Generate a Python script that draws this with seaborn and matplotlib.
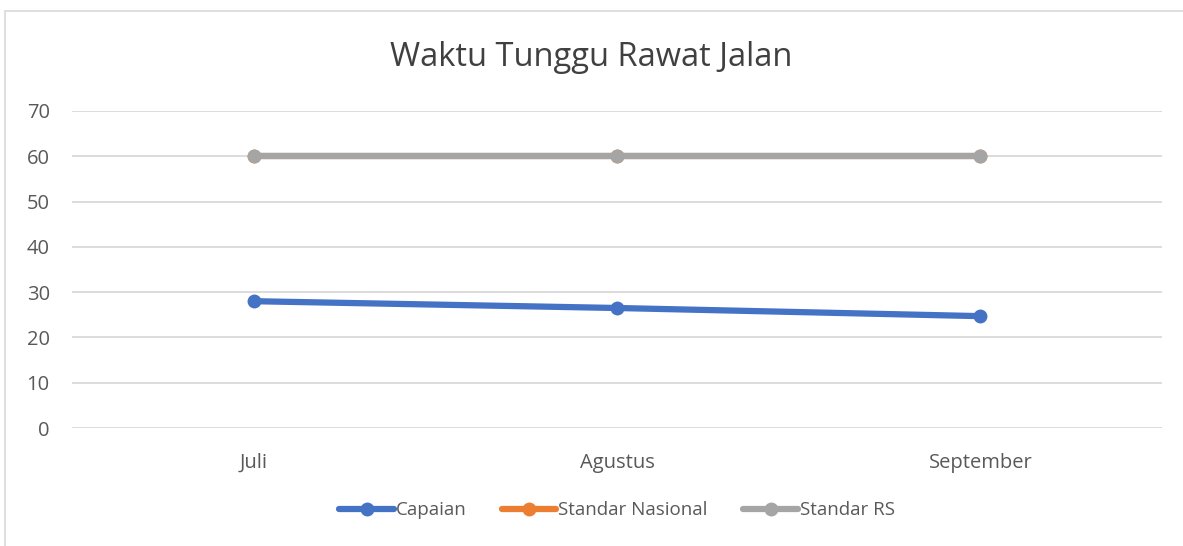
import pandas as pd
import matplotlib.pyplot as plt
import seaborn as sns
from matplotlib.patches import Rectangle

# data
months = ["Juli", "Agustus", "September"]
capaian = [28.0, 26.5, 24.7]
standar_nasional = [60, 60, 60]
standar_rs = [60, 60, 60]

series_names = ["Capaian", "Standar Nasional", "Standar RS"]
colors = ["#4472C4", "#ED7D31", "#A5A5A5"]

rows = []
for name, vals in zip(series_names, [capaian, standar_nasional, standar_rs]):
    for m, v in zip(months, vals):
        rows.append({"Bulan": m, "Nilai": v, "Seri": name})
df = pd.DataFrame(rows)

sns.set_theme(style="white")
plt.rcParams["font.family"] = ["Open Sans", "DejaVu Sans"]

fig = plt.figure(figsize=(11.83, 5.46), dpi=100)
ax = fig.add_axes([72 / 1183, 1 - 428 / 546, (1162 - 72) / 1183, (428 - 111) / 546])

# chart frame like the office chart box
fig.patches.append(Rectangle((5 / 1183, -0.1), 1.1, 1.1 - 12 / 546 + 0.002,
                             transform=fig.transFigure, fill=False,
                             edgecolor="#d9d9d9", linewidth=1.2))

sns.lineplot(data=df, x="Bulan", y="Nilai", hue="Seri", palette=colors,
             marker="o", markersize=10, markeredgewidth=0, linewidth=4.5,
             sort=False, ax=ax)

ax.set_ylim(0, 70)
ax.set_yticks(range(0, 71, 10))
ax.set_xlim(-0.5, 2.5)
ax.grid(True, axis="y", color="#d9d9d9", linewidth=1.3)
ax.set_axisbelow(True)
for s in ax.spines.values():
    s.set_visible(False)
ax.tick_params(axis="both", length=0, labelsize=14.5, colors="#595959")
ax.tick_params(axis="y", pad=16)
ax.tick_params(axis="x", pad=18)
ax.set_xlabel("")
ax.set_ylabel("")

fig.text(0.5, 1 - 57 / 546, "Waktu Tunggu Rawat Jalan", ha="center", va="center",
         fontsize=23.5, color="#404040")

handles, labels = ax.get_legend_handles_labels()
ax.legend(handles, labels, loc="center", bbox_to_anchor=(0.5, -0.259),
          ncol=3, frameon=False, fontsize=13.5, handlelength=2.9,
          handletextpad=0.1, columnspacing=1.9, labelcolor="#595959")

fig.savefig("out.png", dpi=100)
